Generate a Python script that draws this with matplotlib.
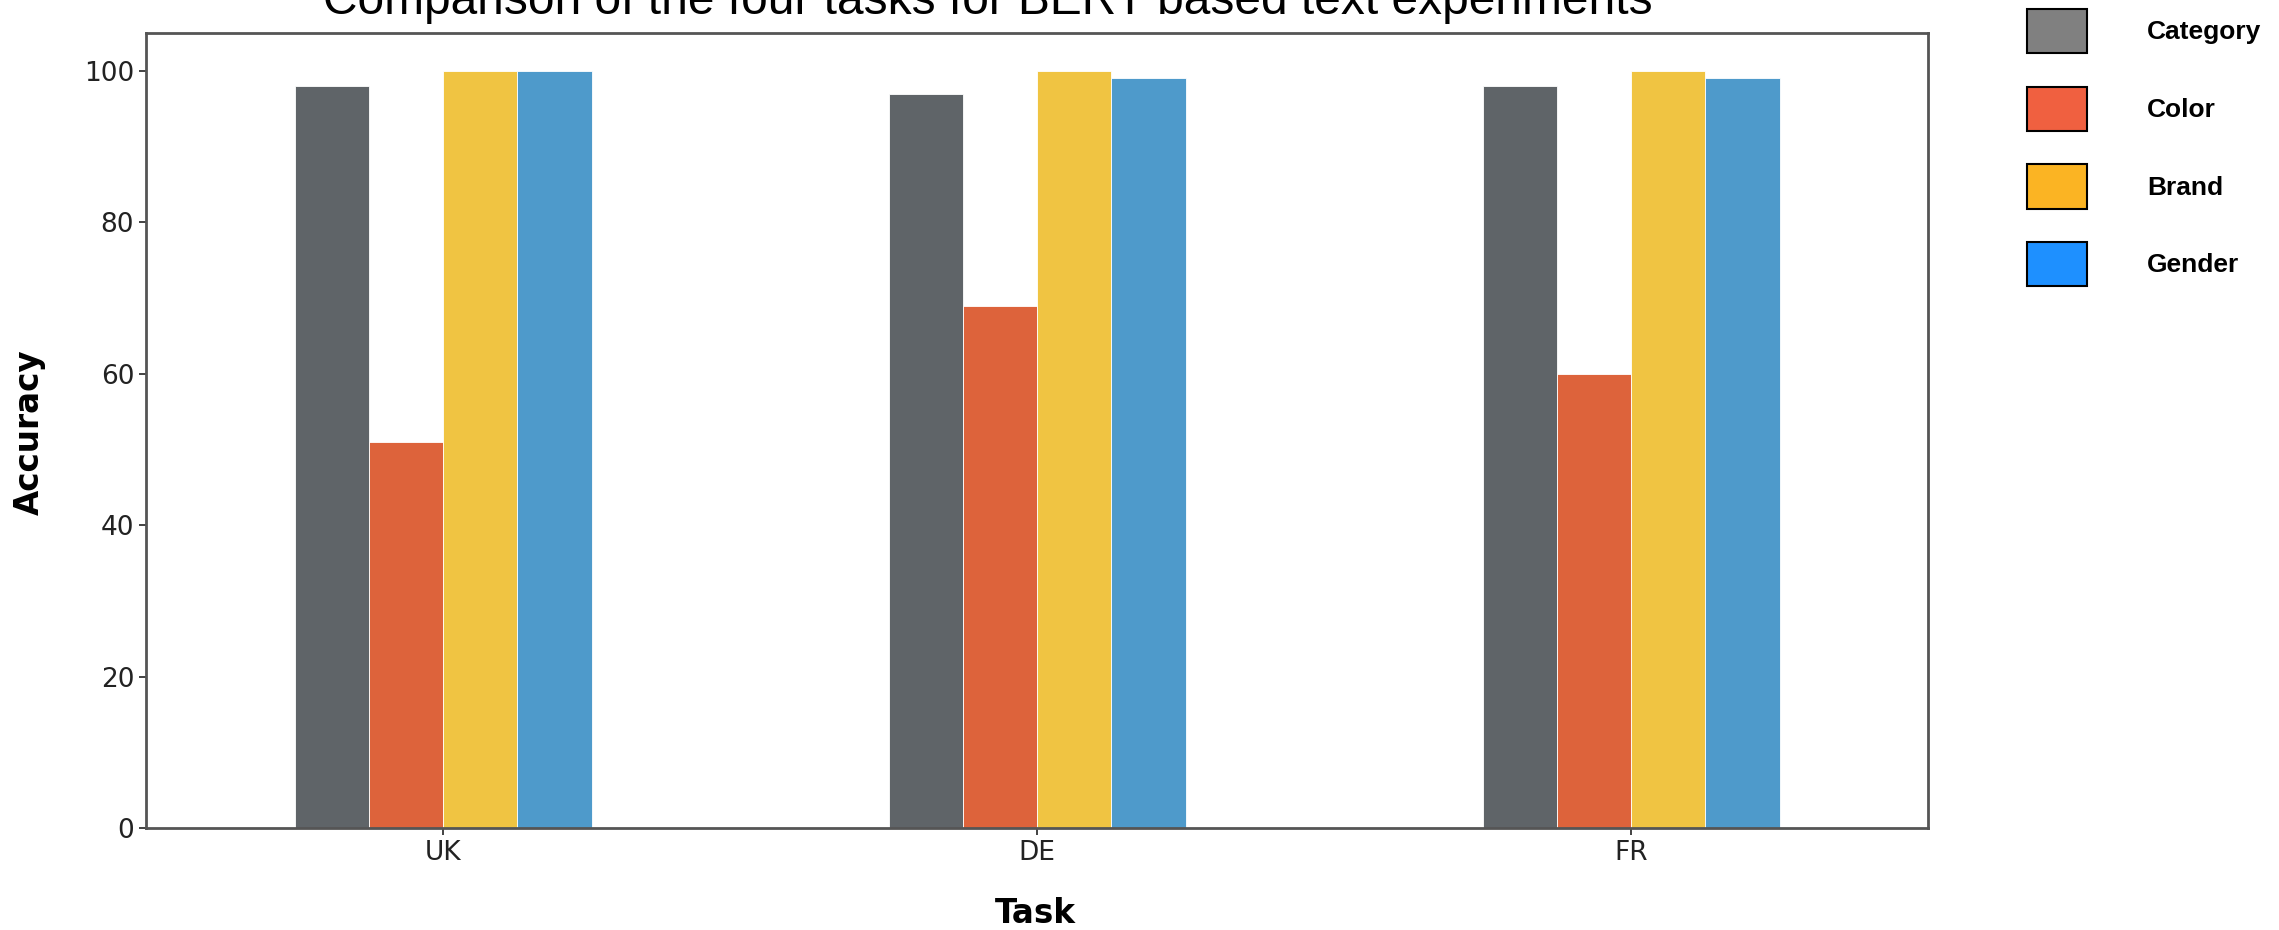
import matplotlib
matplotlib.use("Agg")
import matplotlib.pyplot as plt
import numpy as np
from matplotlib.patches import Patch

# ---------------------------------------------------------------------------
# Data
# ---------------------------------------------------------------------------

TASKS = ["UK", "DE", "FR"]
SERIES = ["Category", "Color", "Brand", "Gender"]

category = [98, 97, 98]
color = [51, 69, 60]
brand = [100, 100, 100]
gender = [100, 99, 99]

BAR_COLORS = ["#5f6468", "#dd633b", "#f0c442", "#4e9acb"]
LEGEND_COLORS = ["#808080", "#f06040", "#fbb423", "#1e90ff"]

TITLE = "Comparison of the four tasks for BERT based text experiments"

W, H = 2279, 930
DPI = 100

fig = plt.figure(figsize=(W / DPI, H / DPI), dpi=DPI)
ax = fig.add_axes([146 / W, 1 - 828 / H, (1928 - 146) / W, (828 - 33) / H])

x = np.arange(len(TASKS))
K = len(SERIES)
width = 0.5 / K
for k, (vals, c) in enumerate(zip([category, color, brand, gender], BAR_COLORS)):
    offset = (k - (K - 1) / 2) * width
    ax.bar(x + offset, vals, width, color=c, edgecolor="white",
           linewidth=0.6, zorder=2)

ax.set_xlim(-0.5, 2.5)
ax.set_ylim(0, 105)
ax.set_xticks(x)
ax.set_xticklabels(TASKS)
ax.set_yticks([0, 20, 40, 60, 80, 100])
ax.tick_params(labelsize=19, colors="#222222", length=5, width=1.2)
for s in ax.spines.values():
    s.set_color("#555555")
    s.set_linewidth(2)

fig.text(29 / W, 1 - 432 / H, "Accuracy", rotation=90, fontsize=23.5,
         fontweight="bold", ha="center", va="center")
fig.text(1035 / W, 1 - 913 / H, "Task", fontsize=23.5, fontweight="bold",
         ha="center", va="center")

# title sits partly above the top edge, as in the source image
fig.text(988 / W, 1 - 14 / H, TITLE, fontsize=34.5, family="Liberation Sans",
         ha="center", va="baseline")

handles = [Patch(facecolor=c, edgecolor="black", linewidth=1.5)
           for c in LEGEND_COLORS]
fig.legend(handles, SERIES, loc="upper left",
           bbox_to_anchor=(2027 / W, 1 - 9 / H), frameon=False,
           borderpad=0, borderaxespad=0, handlelength=2.27,
           handleheight=2.2, labelspacing=1.27, handletextpad=2.27,
           prop={"family": "Liberation Sans", "weight": "bold", "size": 19})

fig.savefig("out.png", dpi=DPI)
